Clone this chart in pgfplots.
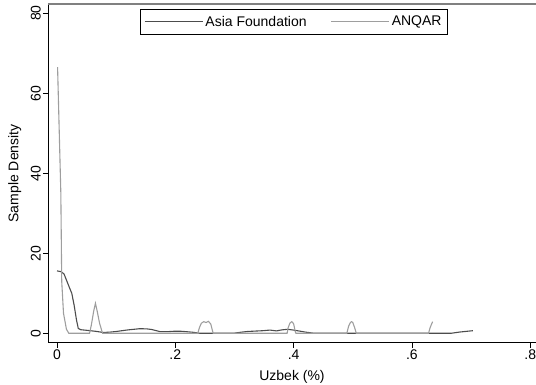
\documentclass[border=0pt]{standalone}
\usepackage{fontspec}
\setmainfont{Liberation Sans}
\usepackage{pgfplots}
\pgfplotsset{compat=1.18}
\definecolor{afcol}{gray}{0.30}
\definecolor{ancol}{gray}{0.62}
\begin{document}
\begin{tikzpicture}[x=1pt,y=1pt]
\useasboundingbox (0,0) rectangle (536,385);
\begin{axis}[
  at={(48pt,42.3pt)}, anchor=south west,
  scale only axis, width=488pt, height=338.7pt,
  xmin=-0.0152, xmax=0.8098, ymin=-2.35, ymax=82.3,
  axis x line*=bottom, axis y line*=left,
  axis line style={-, black, line width=0.9pt},
  font=\fontsize{14}{16}\selectfont,
  /pgf/number format/assume math mode=true,
  xtick={0,0.2,0.4,0.6,0.8}, xticklabels={0,.2,.4,.6,.8},
  ytick={0,20,40,60,80},
  tick align=outside, major tick length=5pt,
  tick style={black, line width=0.8pt},
  yticklabel style={rotate=90, anchor=south, inner sep=2pt},
  xticklabel style={inner sep=2pt},
  xlabel={Uzbek (\%)}, ylabel={Sample Density},
  xlabel style={yshift=-5pt},
  ylabel style={yshift=4pt},
  legend columns=2,
  legend style={at={(0.504,0.985)}, anchor=north, draw=black, line width=0.8pt,
    font=\fontsize{14}{16}\selectfont, inner xsep=4pt, inner ysep=4.5pt,
    /tikz/every even column/.append style={column sep=22pt}},
  legend image code/.code={\draw[#1, line width=1pt] (0pt,0pt) -- (53pt,0pt); \path (0pt,0pt) -- (58pt,0pt);},
]
\addplot[afcol, line width=1.1pt] coordinates {
(0,15.6) (0.007,15.4) (0.012,14.8) (0.016,13.3) (0.02,11.8) (0.025,10) (0.029,7) (0.033,3.3) (0.036,1.2) (0.04,0.9) (0.05,0.75) (0.056,0.65) (0.065,0.5) (0.072,0.35) (0.078,0.2) (0.09,0.3) (0.1,0.45) (0.11,0.65) (0.12,0.85) (0.13,1.0) (0.14,1.15) (0.152,1.1) (0.16,0.95) (0.168,0.65) (0.175,0.4) (0.186,0.4) (0.197,0.5) (0.21,0.5) (0.219,0.4) (0.23,0.25) (0.242,0) (0.298,0) (0.31,0.25) (0.322,0.45) (0.335,0.55) (0.348,0.65) (0.36,0.8) (0.371,0.6) (0.38,0.85) (0.39,1.0) (0.4,0.8) (0.41,0.55) (0.42,0.3) (0.435,0) (0.666,0) (0.68,0.3) (0.703,0.65)
};
\addlegendentry{Asia Foundation}
\addplot[ancol, line width=1.1pt] coordinates {
(0.001,66.5) (0.0065,35) (0.008,13) (0.011,5) (0.016,1) (0.02,0) (0.055,0) (0.058,2) (0.062,5.5) (0.065,7.5) (0.068,5.5) (0.072,2.5) (0.077,0) (0.238,0) (0.241,1.5) (0.244,2.5) (0.248,2.9) (0.252,2.7) (0.256,3.0) (0.26,2.3) (0.264,0) (0.389,0) (0.391,1.5) (0.394,2.6) (0.397,2.9) (0.4,2.4) (0.403,0.3) (0.404,0) (0.49,0) (0.493,1.8) (0.496,2.7) (0.498,2.9) (0.5,2.7) (0.503,1.5) (0.506,0) (0.628,0) (0.631,1.5) (0.635,2.9)
};
\addlegendentry{ANQAR}
\draw[gray, line width=1.5pt] (rel axis cs:0,1) -- (rel axis cs:1,1);
\end{axis}
\end{tikzpicture}
\end{document}
